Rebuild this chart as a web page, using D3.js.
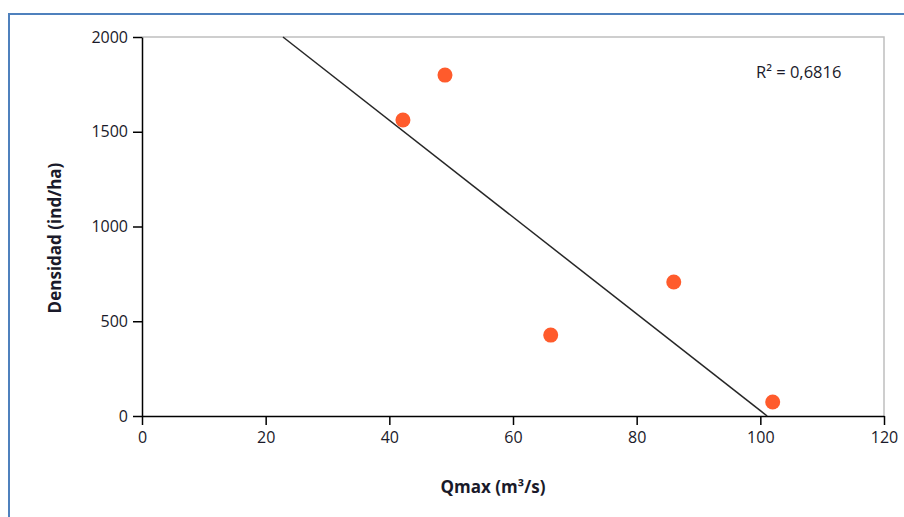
<!DOCTYPE html>
<html><head><meta charset="utf-8">
<script src="https://cdn.jsdelivr.net/npm/d3@7"></script>
<style>html,body{margin:0;padding:0;background:#fff;}svg{display:block;}text{font-family:"Open Sans","Liberation Sans",sans-serif;}</style>
</head><body>
<script>
const qmax = [42.2, 49.0, 66.1, 86.0, 102.0];
const densidad = [1562, 1799, 427, 707, 74];
const trendX = [22.8, 101.1];
const trendY = [2000, 0];
const xTicks = [0, 20, 40, 60, 80, 100, 120];
const yTicks = [0, 500, 1000, 1500, 2000];
const r2Label = "R² = 0,6816";
const xTitle = "Qmax (m³/s)";
const yTitle = "Densidad (ind/ha)";

const W = 904, H = 517;
const svg = d3.select("body").append("svg").attr("width", W).attr("height", H);
svg.append("rect").attr("x", 9).attr("y", 14).attr("width", W + 20).attr("height", H + 20)
  .attr("fill", "#fff").attr("stroke", "#4f81bd").attr("stroke-width", 2);

const L = 142, R = 884, T = 37, B = 416;
const x = d3.scaleLinear().domain([0, 120]).range([L, R]);
const y = d3.scaleLinear().domain([0, 2000]).range([B, T]);

// plot border (gray)
svg.append("path").attr("d", `M${L},${T}H${R}V${B}`).attr("fill", "none").attr("stroke", "#bfbfbf").attr("stroke-width", 1.5);

const xa = svg.append("g").attr("transform", `translate(0,${B})`)
  .call(d3.axisBottom(x).tickValues(xTicks).tickFormat(d3.format("d")).tickSize(9).tickSizeOuter(0).tickPadding(7));
const ya = svg.append("g").attr("transform", `translate(${L},0)`)
  .call(d3.axisLeft(y).tickValues(yTicks).tickFormat(d3.format("d")).tickSize(9).tickSizeOuter(0).tickPadding(5));
[xa, ya].forEach(a => {
  a.attr("font-size", 16).attr("font-family", '"Open Sans","Liberation Sans",sans-serif');
  a.select(".domain").attr("stroke", "#000").attr("stroke-width", 1.5);
  a.selectAll(".tick line").attr("stroke", "#000").attr("stroke-width", 1.5);
  a.selectAll(".tick text").attr("font-size", 16).attr("fill", "#1a1a2a");
});

// trend line
svg.append("line").attr("x1", x(trendX[0])).attr("y1", y(trendY[0]))
  .attr("x2", x(trendX[1])).attr("y2", y(trendY[1]))
  .attr("stroke", "#262626").attr("stroke-width", 1.5);

svg.selectAll("circle.pt").data(qmax.map((q, i) => [q, densidad[i]])).enter()
  .append("circle").attr("class", "pt")
  .attr("cx", d => x(d[0])).attr("cy", d => y(d[1])).attr("r", 7.5)
  .attr("fill", "#ff5b2c");

svg.append("text").attr("x", 756).attr("y", 78).attr("font-size", 16.5).attr("fill", "#1a1a2a").text(r2Label);

svg.append("text").attr("x", 493).attr("y", 493).attr("text-anchor", "middle")
  .attr("font-size", 17).attr("font-weight", "bold").attr("fill", "#1a1a2a").text(xTitle);
svg.append("text").attr("transform", "translate(61,238) rotate(-90)").attr("text-anchor", "middle")
  .attr("font-size", 17).attr("font-weight", "bold").attr("fill", "#1a1a2a").text(yTitle);
</script>
</body></html>
